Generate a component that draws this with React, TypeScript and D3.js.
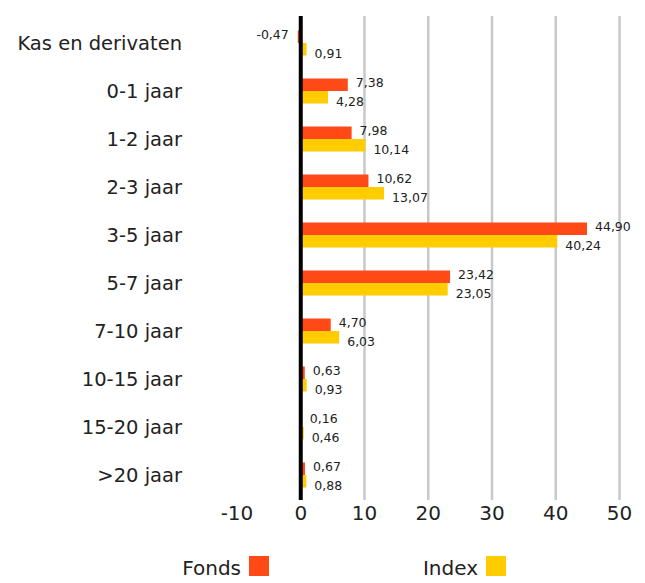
import React from "react";
import * as d3 from "d3";

const categories = ["Kas en derivaten", "0-1 jaar", "1-2 jaar", "2-3 jaar", "3-5 jaar", "5-7 jaar", "7-10 jaar", "10-15 jaar", "15-20 jaar", ">20 jaar"];
const fonds = [-0.47, 7.38, 7.98, 10.62, 44.9, 23.42, 4.7, 0.63, 0.16, 0.67];
const index = [0.91, 4.28, 10.14, 13.07, 40.24, 23.05, 6.03, 0.93, 0.46, 0.88];
const ticks = [-10, 0, 10, 20, 30, 40, 50];
const seriesNames = ["Fonds", "Index"];
const colors = ["#FF4A17", "#FFCC00"];

const FONT = "'DejaVu Sans', sans-serif";

export default function App() {
  const W = 645, H = 583;
  const x = d3.scaleLinear().domain([-10, 50]).range([237, 619.5]);
  const y = d3.scaleBand<string>().domain(categories).range([19, 499]).paddingInner(0).paddingOuter(0);
  const fmt = (v: number) => v.toFixed(2).replace(".", ",");
  const barH = 12.5;
  return (
    <svg width={W} height={H} style={{ position: "absolute", left: 0, top: 0 }} fontFamily={FONT}>
      <rect width={W} height={H} fill="#fff" />
      {ticks.filter(t => t > 0).map(t => (
        <line key={t} x1={x(t)} x2={x(t)} y1={16} y2={500} stroke="#c8c8c8" strokeWidth={2.5} />
      ))}
      {categories.map((c, i) => {
        const cy = (y(c) as number) + y.bandwidth() / 2;
        const vals = [fonds[i], index[i]];
        return (
          <g key={c}>
            <text x={182} y={cy} textAnchor="end" dominantBaseline="central" fontSize={19.5} fill="#222">{c}</text>
            {vals.map((v, j) => {
              const top = cy - barH + j * barH;
              const x0 = Math.min(x(0), x(v));
              const w = Math.abs(x(v) - x(0));
              const ly = j === 0 ? cy - barH / 2 - 2 : cy + barH / 2 + 4;
              return (
                <g key={j}>
                  <rect x={x0} y={top} width={w} height={barH} fill={colors[j]} />
                  <text x={v < 0 ? x(v) - 9 : x(v) + 8} y={ly} textAnchor={v < 0 ? "end" : "start"} dominantBaseline="central" fontSize={12.5} fill="#222">{fmt(v)}</text>
                </g>
              );
            })}
          </g>
        );
      })}
      <line x1={x(0)} x2={x(0)} y1={16} y2={500} stroke="#000" strokeWidth={4} />
      {ticks.map(t => (
        <text key={t} x={x(t)} y={513} textAnchor="middle" dominantBaseline="central" fontSize={20} fill="#222">{t}</text>
      ))}
      {seriesNames.map((s, i) => {
        const sx = i === 0 ? 249 : 486;
        return (
          <g key={s}>
            <text x={sx - 8} y={568} textAnchor="end" dominantBaseline="central" fontSize={20} fill="#222">{s}</text>
            <rect x={sx} y={556} width={20} height={20} fill={colors[i]} />
          </g>
        );
      })}
    </svg>
  );
}
